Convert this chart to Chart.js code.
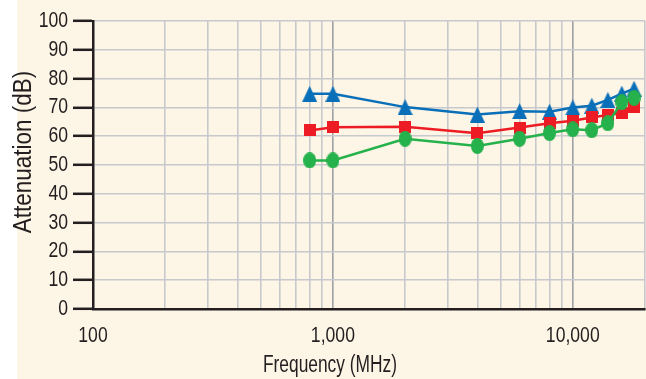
<!DOCTYPE html>
<html>
<head>
<meta charset="utf-8">
<script src="https://cdn.jsdelivr.net/npm/chart.js@4/dist/chart.umd.min.js"></script>
<style>
html,body{margin:0;padding:0;background:#ffffff;}
#wrap{width:646px;height:379px;position:relative;}
</style>
</head>
<body>
<div id="wrap"><canvas id="c" width="646" height="379"></canvas></div>
<script>
// ---- data ----
const frequencies = [800, 1000, 2000, 4000, 6000, 8000, 10000, 12000, 14000, 16000, 18000];
const blueSeries  = [74.7, 74.7, 70.1, 67.5, 68.7, 68.5, 70.0, 70.6, 72.6, 74.8, 76.5];
const redSeries   = [62.0, 63.1, 63.3, 61.0, 63.0, 64.5, 65.4, 66.5, 67.4, 68.0, 70.3];
const greenSeries = [51.6, 51.6, 59.1, 56.6, 59.1, 61.1, 62.4, 62.1, 64.5, 71.8, 73.3];
const xGridValues = [100,200,300,400,500,600,700,800,900,1000,2000,3000,4000,5000,6000,7000,8000,9000,10000,20000];
const xLabelValues = [100, 1000, 10000];
const xLabels = ['100', '1,000', '10,000'];
const yTickValues = [0,10,20,30,40,50,60,70,80,90,100];
const xTitle = 'Frequency (MHz)';
const yTitle = 'Attenuation (dB)';

const FONT = "'Liberation Sans', Arial, sans-serif";
let textSqueeze = 0.8;   // horizontal squeeze to imitate a condensed face
const DARK = '#231f20';
const CREAM = '#fdf5e6';
const GRID = '#c7c9cd';
const GRID_MAJOR = '#9ea1a5';
const BLUE = '#0a6fb9';
const RED = '#ed1c24';
const GREEN = '#25b14b';

function makeMarker(kind, color) {
  const cv = document.createElement('canvas');
  let w, h;
  if (kind === 'tri') { w = 15; h = 16; }
  else if (kind === 'sq') { w = 12; h = 12; }
  else { w = 13; h = 16; }
  cv.width = w; cv.height = h;
  const g = cv.getContext('2d');
  g.fillStyle = color;
  if (kind === 'tri') {
    g.beginPath(); g.moveTo(w/2, 0); g.lineTo(w, h); g.lineTo(0, h); g.closePath(); g.fill();
  } else if (kind === 'sq') {
    g.fillRect(0, 0, w, h);
  } else {
    g.beginPath(); g.ellipse(w/2, h/2, w/2, h/2, 0, 0, Math.PI*2); g.fill();
  }
  return cv;
}

function pts(vals) { return frequencies.map((f, i) => ({x: f, y: vals[i]})); }

const bgPlugin = {
  id: 'bg',
  beforeDraw(chart) {
    const ctx = chart.ctx;
    if (!ctx._condensed) {
      const orig = ctx.fillText;
      ctx.fillText = function (t, x, y, mw) {
        this.save();
        this.translate(x, y);
        this.scale(textSqueeze, 1);
        orig.call(this, t, 0, 0);
        this.restore();
      };
      ctx._condensed = true;
    }
    ctx.save();
    ctx.fillStyle = '#ffffff';
    ctx.fillRect(0, 0, 17, chart.height);
    ctx.fillStyle = CREAM;
    ctx.fillRect(17, 0, chart.width - 17, chart.height);
    ctx.restore();
  },
  afterDraw(chart) {
    const ctx = chart.ctx;
    ctx.save();
    ctx.fillStyle = DARK;
    ctx.textAlign = 'center';
    ctx.textBaseline = 'middle';
    ctx.font = '23px ' + FONT;
    textSqueeze = 0.755;
    ctx.fillText(xTitle, 330, 366);
    ctx.translate(24, 152);
    ctx.rotate(-Math.PI / 2);
    ctx.font = '25px ' + FONT;
    textSqueeze = 0.9;
    ctx.fillText(yTitle, 0, 0);
    textSqueeze = 0.8;
    ctx.restore();
  }
};

new Chart(document.getElementById('c'), {
  type: 'line',
  data: {
    datasets: [
      { data: pts(greenSeries), borderColor: GREEN, borderWidth: 2.5, pointStyle: makeMarker('circ', GREEN), pointRadius: 7, tension: 0 },
      { data: pts(redSeries), borderColor: RED, borderWidth: 2.5, pointStyle: makeMarker('sq', RED), pointRadius: 6, tension: 0 },
      { data: pts(blueSeries), borderColor: BLUE, borderWidth: 2.5, pointStyle: makeMarker('tri', BLUE), pointRadius: 8, tension: 0 }
    ]
  },
  options: {
    responsive: false,
    animation: false,
    events: [],
    layout: { autoPadding: false, padding: { top: 21, right: 1, left: 0, bottom: 0 } },
    plugins: { legend: { display: false }, tooltip: { enabled: false } },
    scales: {
      x: {
        type: 'logarithmic',
        min: 100, max: 20000,
        afterBuildTicks(scale) { scale.ticks = xGridValues.map(v => ({ value: v })); },
        afterFit(scale) { scale.height = 70; scale.paddingLeft = 0; scale.paddingRight = 0; },
        ticks: {
          autoSkip: false, maxRotation: 0, minRotation: 0,
          color: DARK, font: { family: FONT, size: 22 }, padding: 14,
          callback(value) { const i = xLabelValues.indexOf(value); return i >= 0 ? xLabels[i] : ''; }
        },
        grid: {
          drawTicks: false,
          lineWidth: 1.6,
          color(ctx) { const v = ctx.tick && ctx.tick.value; return (v === 1000 || v === 10000) ? GRID_MAJOR : GRID; }
        },
        border: { color: DARK, width: 2.5 }
      },
      y: {
        min: 0, max: 100,
        afterBuildTicks(scale) { scale.ticks = yTickValues.map(v => ({ value: v })); },
        afterFit(scale) { scale.width = 93; scale.paddingTop = 0; scale.paddingBottom = 0; },
        ticks: { autoSkip: false, color: DARK, font: { family: FONT, size: 22 }, padding: 5 },
        grid: { color: GRID, lineWidth: 1.6, tickColor: DARK, tickWidth: 2.5, tickLength: 20 },
        border: { color: DARK, width: 2.5 }
      }
    }
  },
  plugins: [bgPlugin]
});
</script>
</body>
</html>
